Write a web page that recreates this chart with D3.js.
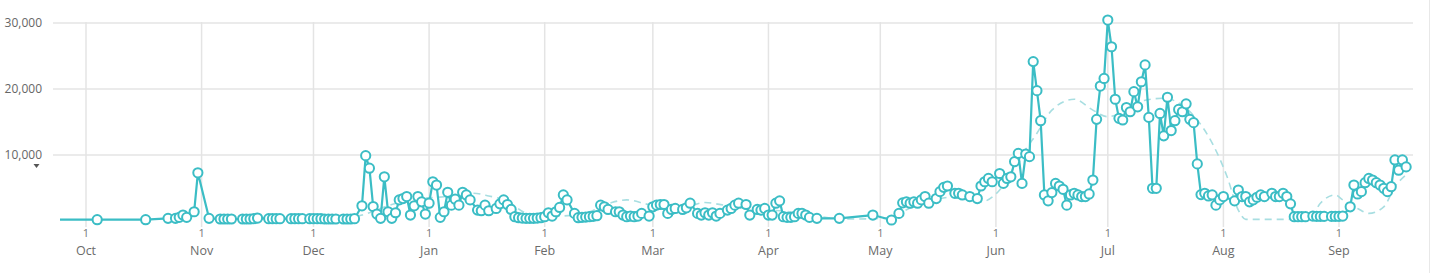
<!DOCTYPE html>
<html lang="en">
<head>
<meta charset="utf-8">
<script src="https://cdn.jsdelivr.net/npm/d3@7"></script>
<style>
    body { margin: 0; background: #fff; }
    text { font-family: "Open Sans", "Noto Sans", sans-serif; }
</style>
</head>
<body>
<div id="my_dataviz"></div>
<script>

    // daily values, one array per month: [day of month, value]
    const sep19 = [[22, 200]];
    const oct19 = [[4, 200], [17, 200], [23, 400], [25, 400], [26, 550], [27, 900], [28, 550], [30, 1400], [31, 7300]];
    const nov19 = [[3, 400], [6, 300], [7, 300], [8, 300], [9, 300], [12, 300], [13, 300], [14, 300], [15, 350], [16, 450],
        [19, 350], [20, 350], [21, 350], [22, 350], [25, 350], [26, 350], [27, 350], [28, 350], [30, 350]];
    const dec19 = [[1, 350], [2, 350], [3, 350], [4, 300], [5, 300], [6, 300], [7, 300], [9, 300], [10, 300], [11, 300],
        [12, 350], [14, 2300], [15, 9900], [16, 8000], [17, 2200], [18, 1050], [19, 400], [20, 6700], [21, 1400], [22, 400],
        [23, 1250], [24, 3200], [25, 3400], [26, 3700], [27, 900], [28, 2300], [29, 3700], [30, 2900], [31, 1050]];
    const jan20 = [[1, 2700], [2, 5950], [3, 5450], [4, 550], [5, 1400], [6, 4350], [7, 2400], [8, 3300], [9, 2400], [10, 4350],
        [11, 3950], [12, 3200], [14, 1650], [15, 1550], [16, 2400], [17, 1550], [19, 1900], [20, 2600], [21, 3200], [22, 2500],
        [23, 1750], [24, 650], [25, 500], [26, 450], [27, 400], [28, 400], [29, 400], [30, 450], [31, 500]];
    const feb20 = [[1, 650], [2, 1250], [3, 750], [4, 1400], [5, 2050], [6, 3950], [7, 3200], [9, 1150], [10, 500], [11, 550],
        [12, 600], [13, 650], [14, 700], [15, 800], [16, 2400], [17, 2150], [18, 1750], [20, 1400], [21, 1400], [22, 900],
        [23, 650], [24, 750], [25, 650], [26, 750], [27, 1150], [29, 750]];
    const mar20 = [[1, 2150], [2, 2400], [3, 2500], [4, 2500], [5, 1150], [6, 1750], [7, 1900], [9, 1750], [10, 2000], [11, 2700],
        [13, 1150], [14, 900], [15, 1250], [16, 900], [17, 1250], [18, 750], [19, 1150], [21, 1650], [22, 1900], [23, 2400],
        [24, 2700], [26, 2500], [27, 900], [29, 1750], [30, 1650], [31, 1900]];
    const apr20 = [[1, 900], [2, 900], [3, 2700], [4, 3050], [5, 650], [6, 550], [7, 550], [8, 650], [9, 1150], [10, 1150],
        [11, 900], [12, 550], [14, 400], [20, 400], [29, 900]];
    const may20 = [[4, 150], [6, 1150], [7, 2750], [8, 2900], [9, 2700], [10, 2900], [11, 2700], [12, 3200], [13, 3700], [14, 2700],
        [16, 3400], [17, 4450], [18, 5100], [19, 5300], [21, 4200], [22, 4200], [23, 3950], [25, 3700], [27, 3400], [28, 5300],
        [29, 5950], [30, 6450], [31, 5950]];
    const jun20 = [[2, 7200], [3, 5700], [4, 6450], [5, 6700], [6, 9000], [7, 10250], [8, 5700], [9, 10150], [10, 9750], [11, 24150],
        [12, 19750], [13, 15200], [14, 3950], [15, 3050], [16, 4300], [17, 5700], [18, 5300], [19, 4800], [20, 2400], [21, 3950],
        [22, 4200], [23, 3950], [24, 3700], [25, 3700], [26, 4100], [27, 6200], [28, 15400], [29, 20450], [30, 21600]];
    const jul20 = [[1, 30450], [2, 26400], [3, 18450], [4, 15550], [5, 15300], [6, 17200], [7, 16550], [8, 19600], [9, 17300], [10, 21100],
        [11, 23650], [12, 15700], [13, 4950], [14, 4950], [15, 16300], [16, 12900], [17, 18750], [18, 13700], [19, 15200], [20, 16900],
        [21, 16550], [22, 17750], [23, 15400], [24, 14900], [25, 8650], [26, 4000], [27, 4200], [28, 3800], [29, 3950], [30, 2400], [31, 3200]];
    const aug20 = [[1, 3700], [4, 3050], [5, 4700], [6, 3700], [7, 3700], [8, 2900], [9, 3200], [10, 3600], [11, 3950], [12, 3700],
        [14, 4200], [15, 3700], [16, 3700], [17, 4200], [18, 3700], [19, 2600], [20, 650], [21, 650], [22, 650], [23, 650],
        [25, 750], [26, 700], [27, 700], [28, 700], [30, 700], [31, 700]];
    const sep20 = [[1, 700], [2, 750], [4, 2150], [5, 5450], [6, 4100], [7, 4450], [8, 5800], [9, 6450], [10, 6200], [11, 5800],
        [12, 5450], [13, 4950], [14, 4450], [15, 5200], [16, 9250], [17, 7700], [18, 9250], [19, 8200]];

    // year, month index, days
    const monthSeries = [[2019, 8, sep19], [2019, 9, oct19], [2019, 10, nov19], [2019, 11, dec19], [2020, 0, jan20], [2020, 1, feb20],
        [2020, 2, mar20], [2020, 3, apr20], [2020, 4, may20], [2020, 5, jun20], [2020, 6, jul20], [2020, 7, aug20], [2020, 8, sep20]];

    // dashed trend line
    const trend = [["2019-11-20", 300], ["2019-12-05", 300], ["2019-12-14", 900], ["2019-12-22", 2500], ["2019-12-30", 3400],
        ["2020-01-08", 3800], ["2020-01-13", 4200], ["2020-01-17", 3800], ["2020-01-22", 3000], ["2020-01-27", 1200],
        ["2020-02-02", 700], ["2020-02-09", 900], ["2020-02-14", 1600], ["2020-02-19", 2800], ["2020-02-23", 3200],
        ["2020-02-28", 2600], ["2020-03-05", 1800], ["2020-03-11", 2300], ["2020-03-15", 2800], ["2020-03-20", 2400],
        ["2020-03-27", 1800], ["2020-04-05", 1500], ["2020-04-14", 700], ["2020-04-22", 300], ["2020-05-02", 400],
        ["2020-05-10", 2200], ["2020-05-17", 3400], ["2020-05-22", 3700], ["2020-05-28", 2900], ["2020-06-02", 4700],
        ["2020-06-07", 9250], ["2020-06-12", 13300], ["2020-06-16", 16800], ["2020-06-22", 18450], ["2020-06-27", 16800],
        ["2020-07-01", 15800], ["2020-07-06", 16800], ["2020-07-11", 18300], ["2020-07-16", 18600], ["2020-07-20", 17900],
        ["2020-07-25", 15300], ["2020-07-29", 11800], ["2020-08-02", 6700], ["2020-08-05", 1650], ["2020-08-07", 250],
        ["2020-08-24", 250], ["2020-08-27", 2700], ["2020-08-31", 3950], ["2020-09-02", 3200], ["2020-09-06", 1900],
        ["2020-09-09", 1150], ["2020-09-13", 2150], ["2020-09-16", 5200], ["2020-09-19", 7000]];

    const yTicks = [10000, 20000, 30000];
    const dayLabel = "1";
    const monthLabels = ["Oct", "Nov", "Dec", "Jan", "Feb", "Mar", "Apr", "May", "Jun", "Jul", "Aug", "Sep"];

    const width = 1443, height = 273;
    const color = "#3bbdc5";

    const data = [];
    monthSeries.forEach(([yr, m, days]) => {
        days.forEach(([d, v]) => data.push({ date: new Date(yr, m, d), value: v }));
    });
    const trendData = trend.map(([s, v]) => ({ date: d3.timeParse("%Y-%m-%d")(s), value: v }));

    const svg = d3.select("#my_dataviz")
        .append("svg")
        .attr("width", width)
        .attr("height", height);

    // x: Oct 1 -> Sep 1
    const x = d3.scaleTime()
        .domain([new Date(2019, 9, 1), new Date(2020, 8, 1)])
        .range([86, 1339]);

    const y = d3.scaleLinear()
        .domain([0, 30000])
        .range([221, 23]);

    const left = 53, right = 1413;

    // right border
    svg.append("line")
        .attr("x1", 1429.5).attr("x2", 1429.5)
        .attr("y1", 0).attr("y2", height)
        .attr("stroke", "#e8e8e8");

    // horizontal grid
    svg.selectAll(".hgrid")
        .data(yTicks)
        .enter()
        .append("line")
        .attr("x1", left).attr("x2", right)
        .attr("y1", d => y(d)).attr("y2", d => y(d))
        .attr("stroke", "#e4e4e4")
        .attr("stroke-width", 1.5);

    svg.selectAll(".ylab")
        .data(yTicks)
        .enter()
        .append("text")
        .attr("x", 42)
        .attr("y", d => y(d) + 4)
        .attr("text-anchor", "end")
        .style("font-size", "12px")
        .attr("fill", "#666")
        .text(d => d3.format(",")(d));

    // little marker under the 10,000 label
    const ty = y(10000) + 9;
    svg.append("path")
        .attr("d", `M33.5,${ty} L39.5,${ty} L36.5,${ty + 4} Z`)
        .attr("fill", "#555");

    // month grid + labels
    const months = d3.timeMonth.range(new Date(2019, 9, 1), new Date(2020, 8, 2));

    svg.selectAll(".vgrid")
        .data(months)
        .enter()
        .append("line")
        .attr("x1", d => x(d)).attr("x2", d => x(d))
        .attr("y1", 22).attr("y2", 227)
        .attr("stroke", "#e4e4e4")
        .attr("stroke-width", 1.5);

    svg.selectAll(".daylab")
        .data(months)
        .enter()
        .append("text")
        .attr("x", d => x(d))
        .attr("y", 237)
        .attr("text-anchor", "middle")
        .style("font-size", "11px")
        .attr("fill", "#777")
        .text(dayLabel);

    svg.selectAll(".monlab")
        .data(months)
        .enter()
        .append("text")
        .attr("x", d => x(d))
        .attr("y", 255)
        .attr("text-anchor", "middle")
        .style("font-size", "12.5px")
        .attr("fill", "#6b6b6b")
        .text((d, i) => monthLabels[i]);

    // clip the series to the plot
    svg.append("clipPath")
        .attr("id", "plotclip")
        .append("rect")
        .attr("x", 60).attr("y", 0)
        .attr("width", right - 60 + 6).attr("height", height);

    const plot = svg.append("g").attr("clip-path", "url(#plotclip)");

    // trend
    plot.append("path")
        .datum(trendData)
        .attr("fill", "none")
        .attr("stroke", "#a8dee1")
        .attr("stroke-width", 1.6)
        .attr("stroke-dasharray", "7,5")
        .attr("d", d3.line()
            .curve(d3.curveMonotoneX)
            .x(d => x(d.date))
            .y(d => y(d.value)));

    // series line
    plot.append("path")
        .datum(data)
        .attr("fill", "none")
        .attr("stroke", color)
        .attr("stroke-width", 2.2)
        .attr("stroke-linejoin", "round")
        .attr("d", d3.line()
            .x(d => x(d.date))
            .y(d => y(d.value)));

    plot.selectAll("circle")
        .data(data)
        .enter()
        .append("circle")
        .attr("cx", d => x(d.date))
        .attr("cy", d => y(d.value))
        .attr("r", 4.6)
        .attr("fill", "#fff")
        .attr("stroke", color)
        .attr("stroke-width", 2);

</script>
</body>
</html>
